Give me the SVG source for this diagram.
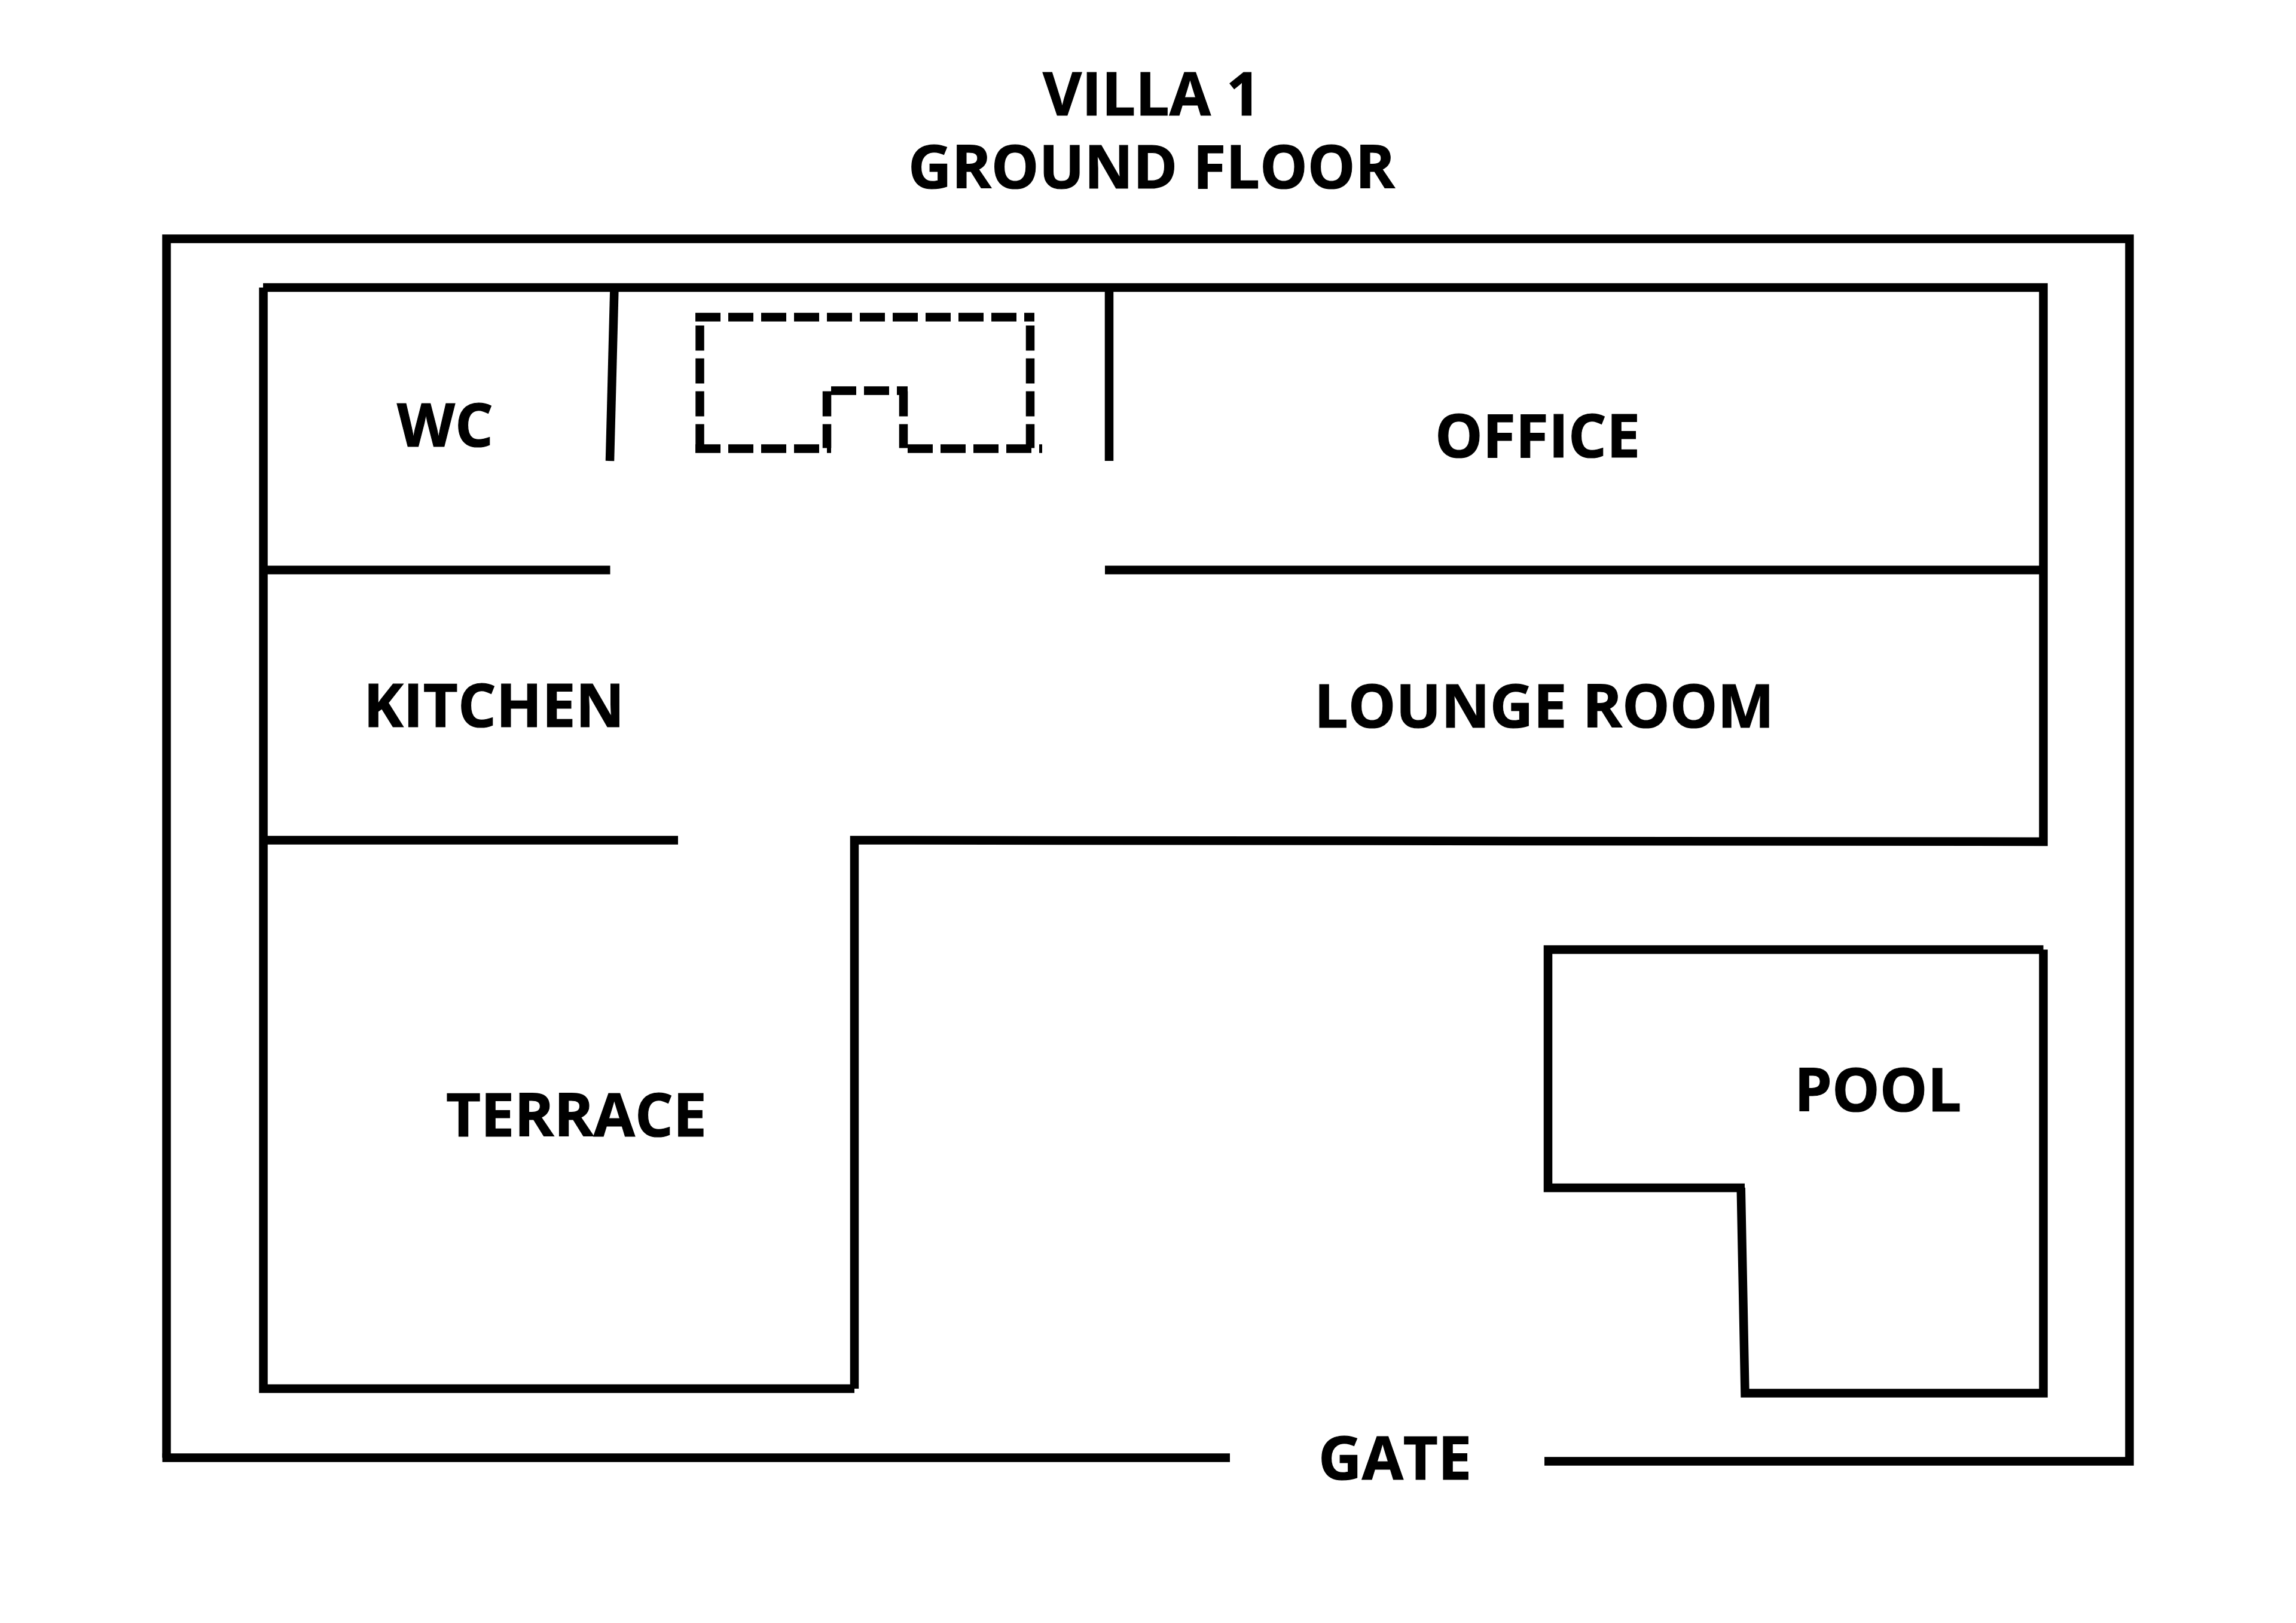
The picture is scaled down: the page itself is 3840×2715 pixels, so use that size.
<svg xmlns="http://www.w3.org/2000/svg" width="3840" height="2715" viewBox="0 0 3840 2715">
<style>
.w{fill:none;stroke:#000;stroke-width:14.5;stroke-linecap:butt;stroke-linejoin:miter}
.d{stroke-dasharray:42 13}
text{font-family:"Open Sans","Noto Sans","Liberation Sans",sans-serif;font-weight:700;font-size:100.3px;fill:#000;stroke:#000;stroke-width:1.2px}
</style>
<rect width="3840" height="2715" fill="#fff"/>
<g id="walls">
<path class="w" d="M278.5 2438.5V399.5H3561.5V2444.5H2583"/>
<path class="w" d="M271.5 2438.5H2057"/>
<path class="w" d="M440.5 481V2323H1429"/>
<path class="w" d="M440 481H3417.5V1408L1429 1405.5V2323"/>
<path class="w" d="M440 953.5H1020.5"/>
<path class="w" d="M1848 953.5H3417.5"/>
<path class="w" d="M440 1405.5H1134"/>
<path class="w" d="M1027.5 481L1020 771"/>
<path class="w" d="M1855 481V771"/>
</g>
<g id="stairs">
<path class="w d" d="M1163 530.5H1730"/>
<path class="w d" d="M1170.5 544.5V750.5"/>
<path class="w d" d="M1723 544.5V749.5"/>
<path class="w d" d="M1163 750.5H1390"/>
<path class="w d" d="M1383 654.5V749.5"/>
<path class="w d" d="M1390 653.5H1518"/>
<path class="w d" d="M1511 654.5V749.5"/>
<path class="w d" d="M1518 750.5H1743"/>
</g>
<g id="pool">
<path class="w" d="M3417.5 1588.5H2589V1987H2918"/>
<path class="w" d="M2911.7 1987L2918.5 2330.5H3417.5V1588.5"/>
</g>
<g id="labels">
<text id="title-1" x="1744" y="193">VILLA 1</text>
<text id="title-2" x="1519" y="315">GROUND FLOOR</text>
<text id="wc" x="664" y="747">WC</text>
<text id="office" x="2400" y="765">OFFICE</text>
<text id="kitchen" x="608" y="1216">KITCHEN</text>
<text id="lounge" x="2198" y="1217">LOUNGE ROOM</text>
<text id="terrace" x="746" y="1901">TERRACE</text>
<text id="pool-label" x="3001" y="1859">POOL</text>
<text id="gate" x="2205" y="2475">GATE</text>
</g>
</svg>
